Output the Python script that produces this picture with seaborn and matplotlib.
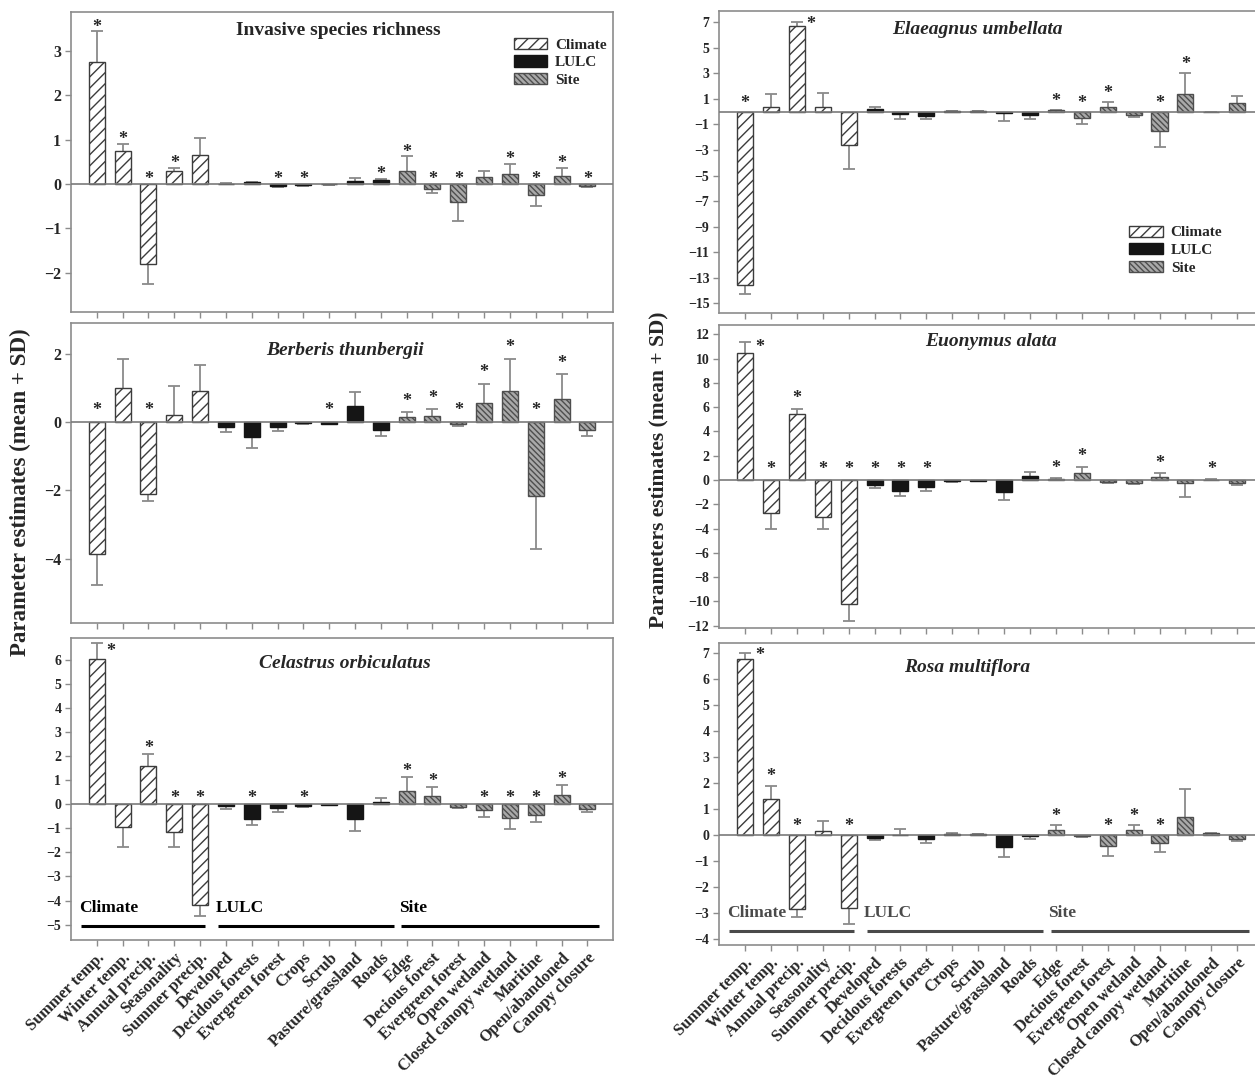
import matplotlib
matplotlib.use("Agg")
import matplotlib.pyplot as plt
from matplotlib.patches import Patch
import numpy as np
import pandas as pd
import seaborn as sns

variables = ["Summer temp.", "Winter temp.", "Annual precip.", "Seasonality", "Summer precip.",
             "Developed", "Decidous forests", "Evergreen forest", "Crops", "Scrub",
             "Pasture/grassland", "Roads", "Edge", "Decious forest", "Evergreen forest",
             "Open wetland", "Closed canopy wetland", "Maritine", "Open/abandoned", "Canopy closure"]
groups = ["Climate"] * 5 + ["LULC"] * 7 + ["Site"] * 8
group_names = ["Climate", "LULC", "Site"]

# mean, SD and significance (1 = *) per variable
richness_mean = [2.74, 0.75, -1.81, 0.29, 0.66, 0.01, 0.04, -0.04, -0.03, -0.01,
                 0.07, 0.08, 0.30, -0.11, -0.41, 0.15, 0.23, -0.25, 0.19, -0.05]
richness_sd = [0.70, 0.15, 0.44, 0.07, 0.37, 0.01, 0.01, 0.02, 0.02, 0.01,
               0.06, 0.04, 0.32, 0.10, 0.42, 0.14, 0.22, 0.25, 0.17, 0.02]
richness_sig = [1, 1, 1, 1, 0, 0, 0, 1, 1, 0, 0, 1, 1, 1, 1, 0, 1, 1, 1, 1]

berberis_mean = [-3.85, 1.00, -2.10, 0.21, 0.90, -0.13, -0.44, -0.13, -0.04, -0.05,
                 0.47, -0.24, 0.15, 0.19, -0.07, 0.57, 0.91, -2.15, 0.68, -0.22]
berberis_sd = [0.93, 0.85, 0.21, 0.84, 0.78, 0.16, 0.32, 0.13, 0.02, 0.02,
               0.41, 0.18, 0.14, 0.18, 0.03, 0.55, 0.94, 1.56, 0.72, 0.20]
berberis_sig = [1, 0, 1, 0, 0, 0, 0, 0, 0, 1, 0, 0, 1, 1, 1, 1, 1, 1, 1, 0]

celastrus_mean = [6.03, -0.94, 1.60, -1.15, -4.17, -0.07, -0.60, -0.18, -0.06, -0.03,
                  -0.62, 0.10, 0.56, 0.35, -0.13, -0.26, -0.57, -0.46, 0.39, -0.22]
celastrus_sd = [0.64, 0.84, 0.48, 0.63, 0.46, 0.13, 0.27, 0.15, 0.04, 0.02,
                0.48, 0.17, 0.58, 0.37, 0.04, 0.26, 0.48, 0.27, 0.41, 0.11]
celastrus_sig = [1, 0, 1, 1, 1, 0, 1, 0, 1, 0, 0, 0, 1, 1, 0, 1, 1, 1, 1, 0]

elaeagnus_mean = [-13.52, 0.39, 6.66, 0.39, -2.59, 0.18, -0.18, -0.31, 0.05, 0.03,
                  -0.13, -0.26, 0.12, -0.52, 0.34, -0.26, -1.48, 1.37, -0.05, 0.65]
elaeagnus_sd = [0.78, 0.98, 0.31, 1.03, 1.87, 0.16, 0.42, 0.26, 0.02, 0.02,
                0.60, 0.31, 0.03, 0.46, 0.44, 0.13, 1.32, 1.66, 0.02, 0.57]
elaeagnus_sig = [1, 0, 1, 0, 0, 0, 0, 0, 0, 0, 0, 0, 1, 1, 1, 0, 1, 1, 0, 0]

euonymus_mean = [10.48, -2.76, 5.43, -3.03, -10.26, -0.41, -0.91, -0.55, -0.10, -0.05,
                 -1.02, 0.36, 0.10, 0.55, -0.19, -0.28, 0.22, -0.28, 0.03, -0.28]
euonymus_sd = [0.91, 1.32, 0.45, 1.05, 1.33, 0.22, 0.41, 0.33, 0.04, 0.02,
               0.66, 0.33, 0.05, 0.53, 0.06, 0.08, 0.33, 1.10, 0.02, 0.16]
euonymus_sig = [1, 1, 1, 1, 1, 1, 1, 1, 0, 0, 0, 0, 1, 1, 0, 0, 1, 0, 1, 0]

rosa_mean = [6.77, 1.37, -2.86, 0.15, -2.82, -0.10, 0.02, -0.17, 0.05, 0.04,
             -0.45, -0.02, 0.19, -0.04, -0.42, 0.19, -0.32, 0.71, 0.06, -0.15]
rosa_sd = [0.23, 0.53, 0.28, 0.40, 0.62, 0.09, 0.21, 0.12, 0.01, 0.01,
           0.41, 0.15, 0.19, 0.02, 0.38, 0.19, 0.32, 1.06, 0.01, 0.07]
rosa_sig = [1, 1, 1, 0, 1, 0, 0, 0, 0, 0, 0, 0, 1, 0, 1, 1, 1, 0, 0, 0]

sns.set_theme(style="white")
plt.rcParams['font.family'] = ['Liberation Serif', 'DejaVu Serif']
plt.rcParams['font.weight'] = 'bold'
plt.rcParams['hatch.linewidth'] = 1.0

fill = {"Climate": "white", "LULC": "#151515", "Site": "#a9a9a9"}
edge = {"Climate": "#3c3c3c", "LULC": "#151515", "Site": "#4e4e4e"}
hatch = {"Climate": "///", "LULC": "", "Site": "\\\\\\\\\\\\"}
err_col = "#8a8a8a"
frame_col = "#8c8c8c"

fig = plt.figure(figsize=(12.55, 10.85), dpi=100)


def panel(rect, mean, sd, sig, title, italic, ylim, yticks, tsize, title_xy, star_gap,
          bottom=False, legend_xy=None, group_col="black"):
    ax = fig.add_axes(rect)
    pos = np.arange(len(variables))
    df = pd.DataFrame({"pos": pos, "value": mean, "group": groups})
    sns.barplot(data=df, x="pos", y="value", hue="group", hue_order=group_names,
                palette=fill, dodge=False, native_scale=True, width=0.62,
                errorbar=None, legend=False, linewidth=1.0, ax=ax, zorder=2)
    for g, cont in zip(group_names, ax.containers):
        for bar in cont:
            bar.set_edgecolor(edge[g])
            bar.set_hatch(hatch[g])
    m = np.array(mean)
    s = np.array(sd)
    tips = m + np.where(m >= 0, s, -s)
    ax.vlines(pos, m, tips, color=err_col, lw=1.3, zorder=1)
    ax.plot(pos, tips, ls="none", marker="_", ms=9, mew=1.3, color=err_col, zorder=1)
    ax.axhline(0, color="#7a7a7a", lw=1.2, zorder=3)

    ax.set_xlim(-1, 20)
    ax.set_ylim(*ylim)
    fig.canvas.draw()
    px_per_unit = ax.get_window_extent().height / (ylim[1] - ylim[0])
    star_fs = 13
    glyph_mid = 0.52 * star_fs * 100 / 72
    for i in range(len(variables)):
        if not sig[i]:
            continue
        base = max(tips[i], 0) if m[i] >= 0 else 0
        room = (ylim[1] - base) * px_per_unit
        if room < star_gap + 7:
            ax.annotate("*", xy=(i + 0.55, (m[i] + tips[i]) / 2), ha="center", va="center",
                        fontsize=star_fs, xytext=(0, 0), textcoords="offset points")
        else:
            ax.annotate("*", xy=(i, base), xytext=(0, (star_gap - glyph_mid) * 0.72),
                        textcoords="offset points", ha="center", va="baseline",
                        fontsize=star_fs)

    ax.text(title_xy[0], title_xy[1], title, transform=ax.transAxes, ha="center", va="center",
            fontsize=14, fontweight="bold", style="italic" if italic else "normal")

    ax.set_yticks(yticks)
    ax.set_yticklabels([f"{t:g}".replace("-", "\u2212") for t in yticks], fontsize=tsize)
    ax.set_xticks(pos)
    if bottom:
        ax.set_xticklabels(variables, rotation=45, ha="right", va="top",
                           rotation_mode="anchor", fontsize=11.8)
    else:
        ax.set_xticklabels([])
    ax.set_xlabel("")
    ax.set_ylabel("")
    ax.tick_params(axis="both", direction="out", length=4, width=1, color=frame_col,
                   pad=3, bottom=True, left=True)
    for sp in ax.spines.values():
        sp.set_color(frame_col)
        sp.set_linewidth(1.2)

    if legend_xy is not None:
        handles = [Patch(facecolor=fill[g], edgecolor=edge[g], hatch=hatch[g]) for g in group_names]
        ax.legend(handles, group_names, loc="upper left", bbox_to_anchor=legend_xy,
                  frameon=False, fontsize=11, handlelength=2.2, handleheight=0.75,
                  labelspacing=0.25, handletextpad=0.5, borderaxespad=0)

    if bottom:
        y_line = ylim[0] + 0.048 * (ylim[1] - ylim[0])
        y_text = ylim[0] + 0.105 * (ylim[1] - ylim[0])
        spans = [(-0.6, 4.2), (4.7, 11.5), (11.8, 19.45)]
        for name, (a, b) in zip(group_names, spans):
            ax.plot([a, b], [y_line, y_line], color=group_col, lw=2.2, solid_capstyle="butt")
            ax.text(a - 0.1, y_text, name, ha="left", va="center", fontsize=12.5,
                    color=group_col, fontweight="bold")
    return ax


panel([0.0566, 0.7124, 0.432, 0.2765], richness_mean, richness_sd, richness_sig,
      "Invasive species richness", False, (-2.88, 3.87), [-2, -1, 0, 1, 2, 3], 11.5,
      (0.493, 0.94), 9, legend_xy=(0.805, 0.935))
panel([0.0566, 0.4258, 0.432, 0.2765], berberis_mean, berberis_sd, berberis_sig,
      "Berberis thunbergii", True, (-5.88, 2.9), [-4, -2, 0, 2], 11.5,
      (0.505, 0.91), 16)
panel([0.0566, 0.1336, 0.432, 0.2783], celastrus_mean, celastrus_sd, celastrus_sig,
      "Celastrus orbiculatus", True, (-5.64, 6.89), list(range(-5, 7)), 10,
      (0.505, 0.917), 10.5, bottom=True)

panel([0.573, 0.7115, 0.4335, 0.2783], elaeagnus_mean, elaeagnus_sd, elaeagnus_sig,
      "Elaeagnus umbellata", True, (-15.75, 7.86), list(range(-15, 8, 2)), 10,
      (0.474, 0.94), 13, legend_xy=(0.743, 0.31))
panel([0.573, 0.4212, 0.4335, 0.2793], euonymus_mean, euonymus_sd, euonymus_sig,
      "Euonymus alata", True, (-12.2, 12.78), list(range(-12, 13, 2)), 10,
      (0.50, 0.947), 15)
panel([0.573, 0.129, 0.4335, 0.2783], rosa_mean, rosa_sd, rosa_sig,
      "Rosa multiflora", True, (-4.23, 7.38), list(range(-4, 8)), 10,
      (0.456, 0.92), 13.5, bottom=True, group_col="#4a4a4a")

fig.text(0.016, 0.546, "Parameter estimates (mean + SD)", rotation=90, ha="center", va="center",
         fontsize=16.5, fontweight="bold")
fig.text(0.525, 0.567, "Parameters estimates (mean + SD)", rotation=90, ha="center", va="center",
         fontsize=15.5, fontweight="bold")

fig.savefig("out.png", dpi=100)
